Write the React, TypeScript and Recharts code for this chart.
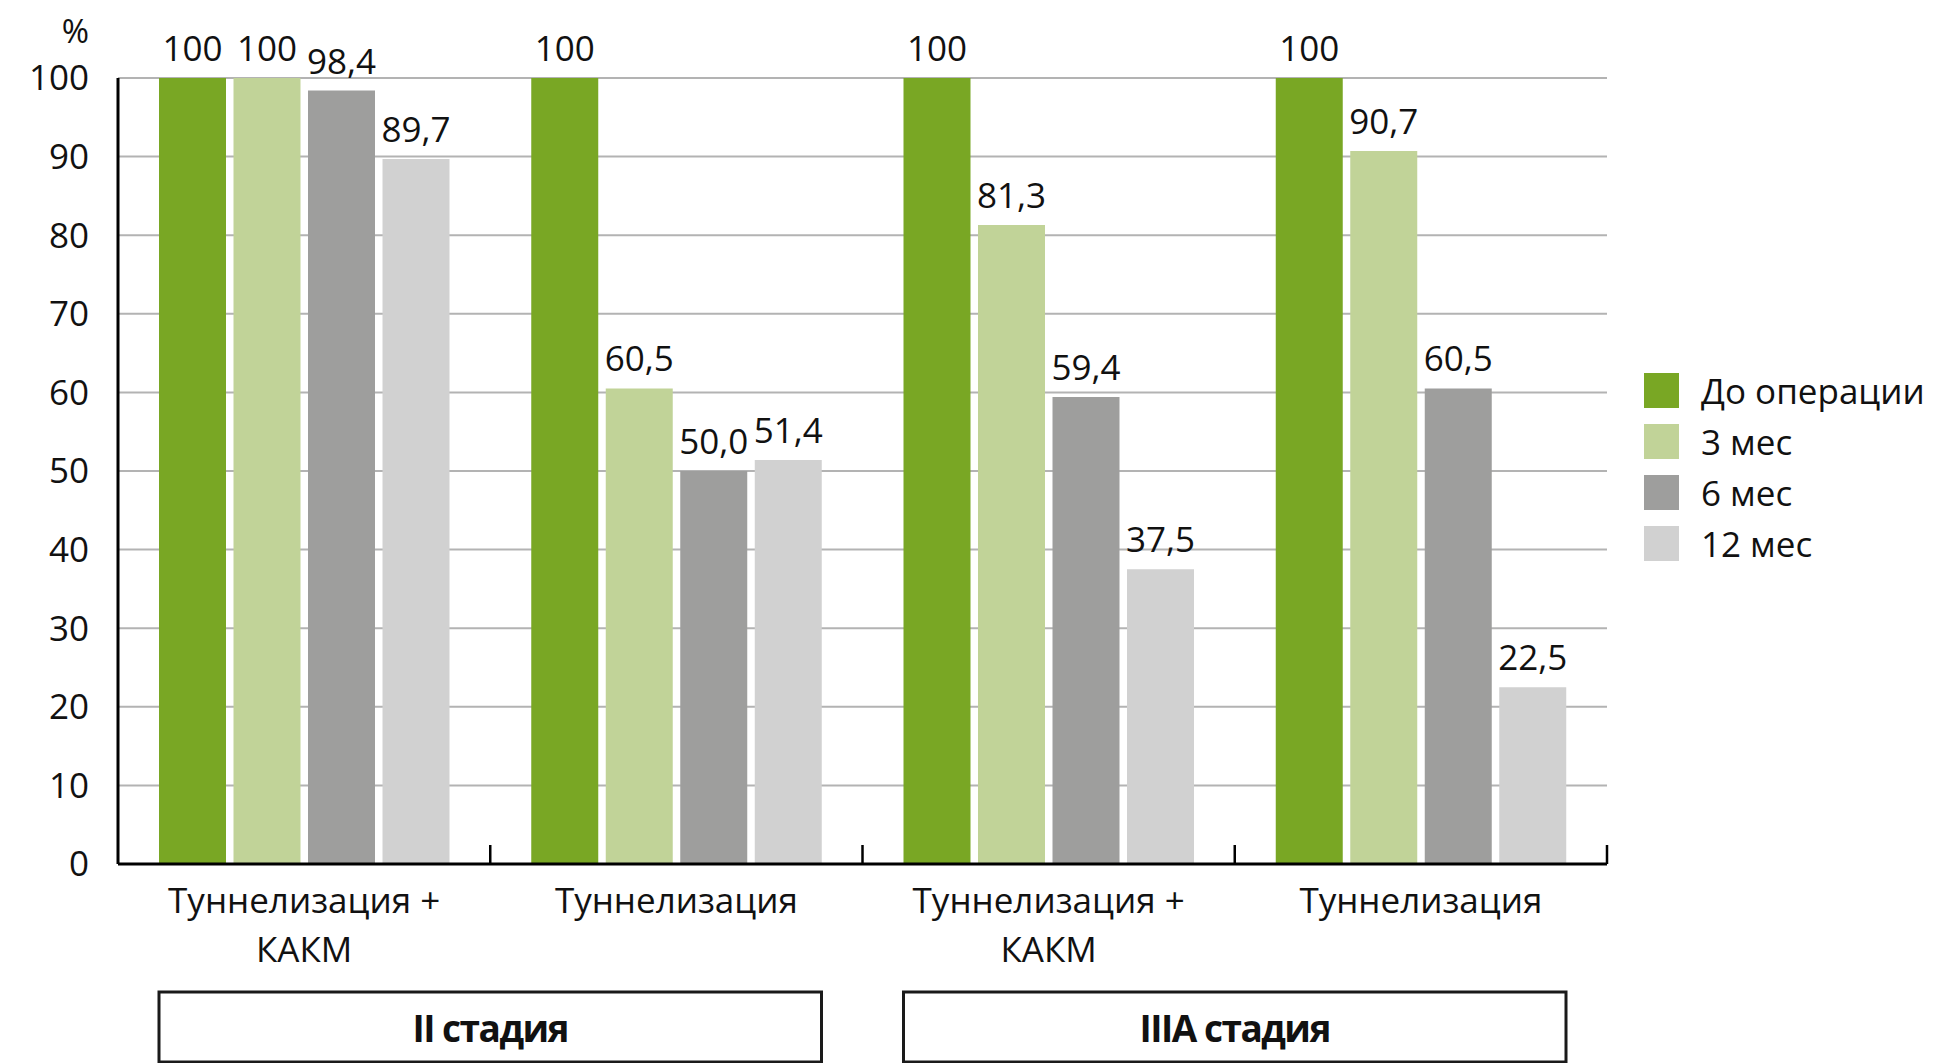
import React from "react";
import { BarChart, Bar, XAxis, YAxis, CartesianGrid, Legend, LabelList } from "recharts";

const categories = ["Туннелизация +\nКАКМ", "Туннелизация", "Туннелизация +\nКАКМ", "Туннелизация"];
const stages = ["II стадия", "IIIA стадия"];
const seriesNames = ["До операции", "3 мес", "6 мес", "12 мес"];
const beforeOp = [100, 100, 100, 100];
const month3 = [100, 60.5, 81.3, 90.7];
const month6 = [98.4, 50.0, 59.4, 60.5];
const month12 = [89.7, 51.4, 37.5, 22.5];
const yTicks = [0, 10, 20, 30, 40, 50, 60, 70, 80, 90, 100];
const colors = ["#79a724", "#c1d398", "#9e9e9d", "#d1d1d1"];

const data = categories.map((c, i) => ({
  cat: c,
  s0: beforeOp[i],
  s1: month3[i],
  s2: month6[i],
  s3: month12[i],
}));

const GAP = 41;
const FONT = "'Open Sans', 'Noto Sans', sans-serif";

const fmt = (v: any) => (v === 100 ? "100" : Number(v).toFixed(1).replace(".", ","));

function CategoryTick(props: any) {
  const { x, y, payload, index, width } = props;
  const offset = payload && payload.offset ? payload.offset : width / categories.length / 2;
  const lines = String(payload.value).split("\n");
  const idx = payload.index !== undefined ? payload.index : index;
  return (
    <g>
      <line x1={x + offset} x2={x + offset} y1={y - 19} y2={y} stroke="#000" strokeWidth={2.5} />
      <text textAnchor="middle" fontSize={35} fill="#111" fontFamily={FONT}>
        {lines.map((l, k) => (
          <tspan key={k} x={x} y={y + 49 + k * 49}>
            {l}
          </tspan>
        ))}
      </text>
      {idx % 2 === 0 && (
        <g>
          <rect
            x={x - offset + GAP}
            y={y + 128}
            width={4 * offset - 2 * GAP}
            height={70}
            fill="none"
            stroke="#1a1a1a"
            strokeWidth={3}
          />
          <text
            x={x + offset}
            y={y + 178}
            textAnchor="middle"
            fontSize={37}
            fontWeight={700}
            fill="#111"
            fontFamily={FONT}
            letterSpacing={-1.5}
          >
            {stages[Math.floor(idx / 2)]}
          </text>
        </g>
      )}
    </g>
  );
}

function PercentLabel(props: any) {
  const vb = props.viewBox || { x: 0, y: 78, width: 118 };
  return (
    <text x={vb.x + vb.width - 29} y={vb.y - 35} textAnchor="end" fontSize={33} fill="#111" fontFamily={FONT}>
      %
    </text>
  );
}

function LegendContent() {
  return (
    <div style={{ fontFamily: FONT }}>
      {seriesNames.map((name, i) => (
        <div key={i} style={{ display: "flex", alignItems: "center", height: 35, marginBottom: 16 }}>
          <div style={{ width: 35, height: 35, background: colors[i], flex: "none" }} />
          <span style={{ marginLeft: 22, fontSize: 35, color: "#111", whiteSpace: "nowrap", lineHeight: "35px" }}>
            {name}
          </span>
        </div>
      ))}
    </div>
  );
}

export default function App() {
  return (
    <div style={{ width: 1933, height: 1063, overflow: "hidden", position: "relative", fontFamily: FONT, background: "#fff" }}>
      <style>{`body{margin:0;}`}</style>
      <BarChart
        width={1933}
        height={1063}
        data={data}
        margin={{ top: 78, right: 326, bottom: 0, left: 0 }}
        barCategoryGap={GAP}
        barGap={7.5}
      >
        <CartesianGrid vertical={false} stroke="#b3b3b3" strokeWidth={2} />
        <XAxis
          dataKey="cat"
          height={199}
          axisLine={{ stroke: "#000", strokeWidth: 3 }}
          tickLine={false}
          tickSize={0}
          tickMargin={0}
          interval={0}
          tick={<CategoryTick />}
        />
        <YAxis
          width={118}
          domain={[0, 100]}
          ticks={yTicks}
          interval={0}
          axisLine={{ stroke: "#000", strokeWidth: 3 }}
          tickLine={false}
          tickSize={0}
          tickMargin={29}
          tick={{ fontSize: 35, fill: "#111", fontFamily: FONT }}
          label={<PercentLabel />}
        />
        <Legend
          layout="vertical"
          align="center"
          verticalAlign="middle"
          wrapperStyle={{ left: 1644, top: 373, width: 289 }}
          content={<LegendContent />}
        />
        {["s0", "s1", "s2", "s3"].map((k, i) => (
          <Bar key={k} dataKey={k} name={seriesNames[i]} fill={colors[i]} isAnimationActive={false}>
            <LabelList dataKey={k} position="top" offset={17} formatter={fmt} fontSize={35} fill="#111" fontFamily={FONT} />
          </Bar>
        ))}
      </BarChart>
    </div>
  );
}
